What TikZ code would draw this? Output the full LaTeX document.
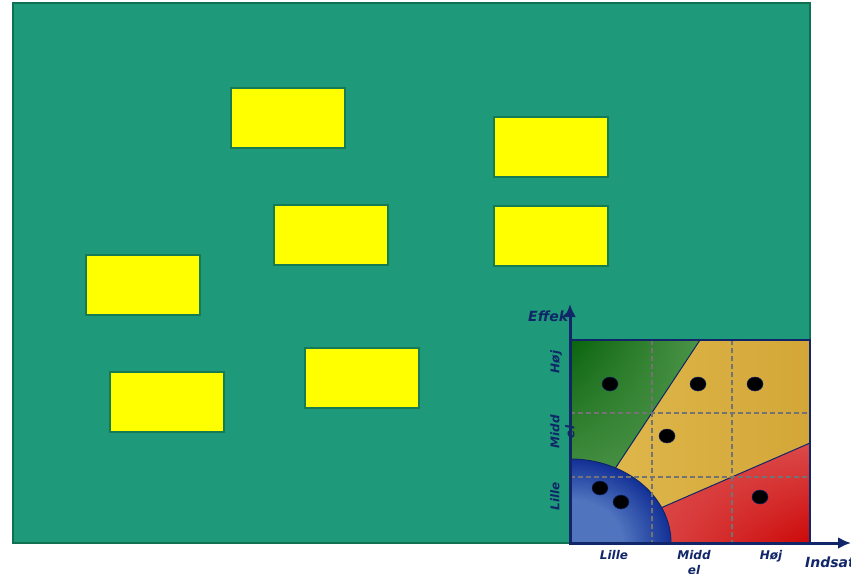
\documentclass[tikz,border=0pt]{standalone}
\usepackage{fontspec}
\setmainfont{DejaVu Sans}
\usetikzlibrary{arrows.meta,shadings}
\definecolor{bgteal}{RGB}{30,154,122}
\definecolor{bgedge}{RGB}{16,112,82}
\definecolor{noteedge}{RGB}{22,122,84}
\definecolor{notefill}{RGB}{255,255,0}
\definecolor{navy}{RGB}{16,38,104}
\definecolor{gdark}{RGB}{10,100,14}
\definecolor{glight}{RGB}{76,148,72}
\definecolor{ybase}{RGB}{224,186,78}
\definecolor{ydark}{RGB}{212,166,56}
\definecolor{rbase}{RGB}{220,74,74}
\definecolor{rdark}{RGB}{204,8,8}
\definecolor{blight}{RGB}{80,116,190}
\definecolor{bdark}{RGB}{18,48,150}
\definecolor{gridgray}{RGB}{115,115,115}
\pgfdeclareradialshading{bluedisc}{\pgfpoint{0bp}{0bp}}{color(0bp)=(blight); color(13bp)=(blight); color(25bp)=(bdark); color(50bp)=(bdark)}
\tikzset{
  notebox/.style={
    draw=noteedge, fill=notefill, line width=2pt,
    minimum width=114pt, minimum height=60pt, inner sep=0pt
  },
  axis/.style={draw=navy, line width=3pt, -{Latex[length=13pt,width=12pt]}},
  gridline/.style={draw=gridgray, line width=1.3pt, dash pattern=on 5pt off 3pt},
  border/.style={draw=navy, line width=1pt},
  dot/.style={fill=black, draw=navy, line width=0.5pt},
  lbl/.style={font=\fontsize{12}{15}\selectfont\bfseries\itshape, text=navy,
    inner sep=0pt, align=center},
  ttl/.style={lbl, font=\fontsize{14}{17}\selectfont\bfseries\itshape}
}
\begin{document}
\begin{tikzpicture}[x=1pt,y=-1pt]
  \useasboundingbox (0,0) rectangle (851,573);
  \draw[fill=bgteal, draw=bgedge, line width=2pt] (13,3) rectangle (810,543);

  \node[notebox] (n1) at (288,118) {};
  \node[notebox] (n2) at (551,147) {};
  \node[notebox] (n3) at (331,235) {};
  \node[notebox] (n4) at (551,236) {};
  \node[notebox] (n5) at (143,285) {};
  \node[notebox] (n6) at (167,402) {};
  \node[notebox] (n7) at (362,378) {};

  % regions
  \begin{scope}
    \clip (570,340) rectangle (810,543);
    \shade[upper left=ybase, upper right=ydark, lower left=ybase, lower right=ydark]
      (570,340) rectangle (810,543);
    \shade[upper left=gdark, upper right=glight, lower left=glight, lower right=glight]
      (570,340) -- (700,340) -- (599,493) -- (570,493) -- cycle;
    \shade[upper left=rbase, upper right=rbase, lower left=rbase, lower right=rdark]
      (810,443) -- (810,543) -- (640,543) -- (640,517) -- cycle;
    \draw[border] (700,340) -- (599,493);
    \draw[border] (810,443) -- (640,517);
    \shade[shading=bluedisc] (570,543) ellipse [x radius=101, y radius=84];
    \draw[border] (570,543) ellipse [x radius=101, y radius=84];
    \draw[gridline] (652,340) -- (652,543);
    \draw[gridline] (732,340) -- (732,543);
    \draw[gridline] (570,413) -- (810,413);
    \draw[gridline] (570,477) -- (810,477);
  \end{scope}
  \draw[border, line width=1.5pt] (570,340) -- (810,340) -- (810,543);

  \draw[dot] (610,384) ellipse [x radius=8, y radius=7];
  \draw[dot] (698,384) ellipse [x radius=8, y radius=7];
  \draw[dot] (755,384) ellipse [x radius=8, y radius=7];
  \draw[dot] (667,436) ellipse [x radius=8, y radius=7];
  \draw[dot] (600,488) ellipse [x radius=8, y radius=7];
  \draw[dot] (621,502) ellipse [x radius=8, y radius=7];
  \draw[dot] (760,497) ellipse [x radius=8, y radius=7];

  % axis labels
  \node[lbl, rotate=90, anchor=north] (yhigh) at (550,362) {Høj};
  \node[lbl, rotate=90, anchor=north] (ymid) at (550,432) {Midd\\el};
  \node[lbl, rotate=90, anchor=north] (ylow) at (550,496) {Lille};
  \node[lbl, anchor=north] (xlow) at (614,550) {Lille};
  \node[lbl, anchor=north] (xmid) at (694,550) {Midd\\el};
  \node[lbl, anchor=north] (xhigh) at (771,550) {Høj};
  \node[ttl, anchor=west] (xname) at (805,562) {Indsats};
  \begin{scope}
    \clip (520,300) rectangle (567,330);
    \node[ttl, anchor=west] (yname) at (528,316) {Effekt};
  \end{scope}

  \coordinate (origin) at (570,545);
  \coordinate (xstart) at (568.5,543);
  \coordinate (ytip) at (570,304);
  \coordinate (xtip) at (851,543);
  \draw[axis] (origin) -- (ytip);
  \draw[axis] (xstart) -- (xtip);
\end{tikzpicture}
\end{document}
